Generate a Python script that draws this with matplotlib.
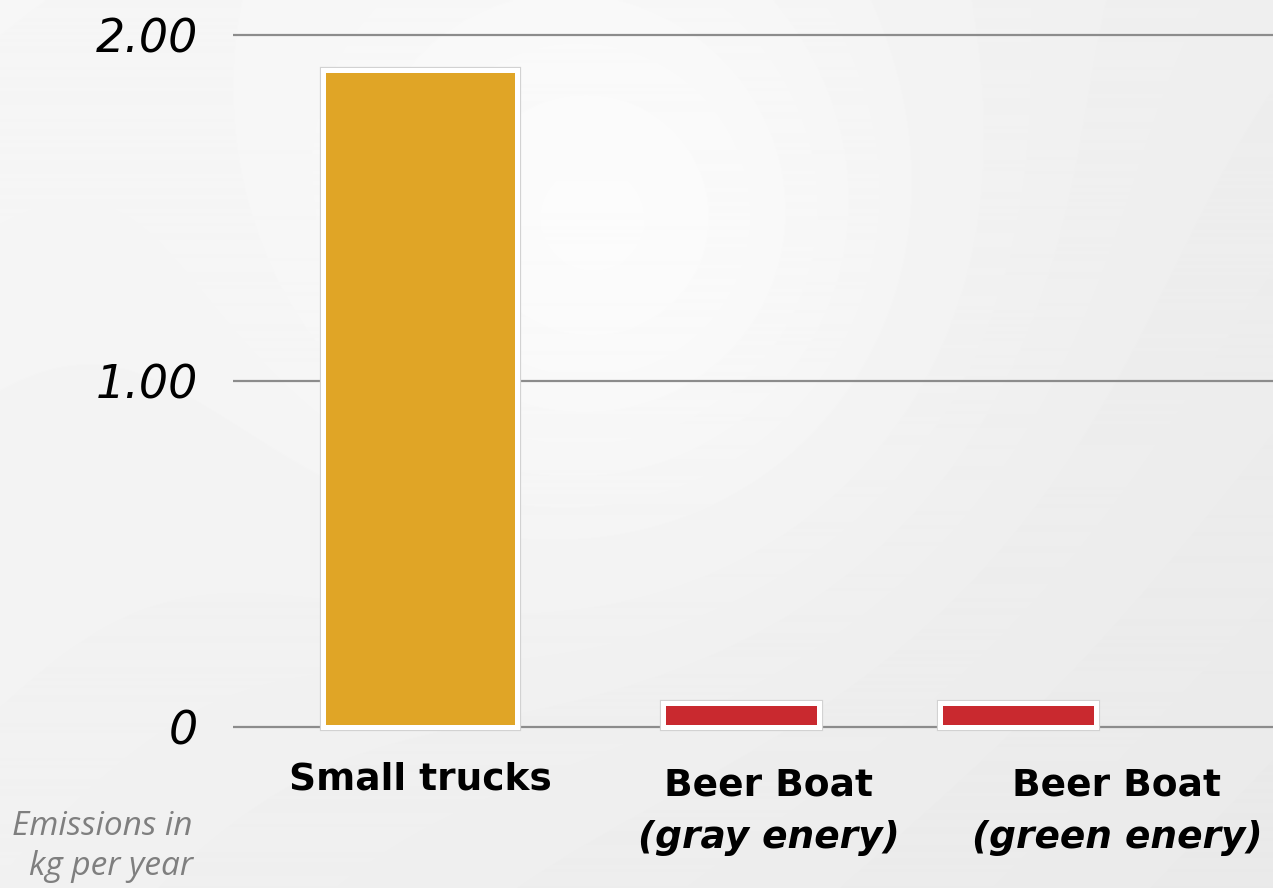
import numpy as np
import matplotlib
matplotlib.use("Agg")
import matplotlib.pyplot as plt
import matplotlib.transforms as mtransforms

# data
categories = ["Small trucks", "Beer Boat", "Beer Boat"]
subtitles = ["", "(gray enery)", "(green enery)"]
emissions = [1.90, 0.07, 0.07]
y_ticks = [0, 1, 2]
y_tick_labels = ["0", "1.00", "2.00"]

# layout (bars are not exactly centred under their labels on the slide)
bar_offsets = [0.0, -0.079, -0.284]
bar_widths = [0.554, 0.445, 0.445]
bar_colors = ["#E0A526", "#C9292F", "#C9292F"]

W, H = 1273, 888
fig = plt.figure(figsize=(W / 100, H / 100), dpi=100)

# =========================
# background: light gray with a soft highlight
# =========================
bg = fig.add_axes([0, 0, 1, 1], zorder=-10)
yy, xx = np.mgrid[0:H, 0:W]
base = 0.965 - 0.05 * (0.6 * xx / W + 0.4 * yy / H)
spot = 0.04 * np.exp(-((xx - 625) ** 2 + (yy - 250) ** 2) / (2 * 230.0 ** 2))
shade = np.clip(base + spot, 0, 1)
bg.imshow(shade, cmap="gray", vmin=0, vmax=1, aspect="auto",
          extent=[0, 1, 0, 1], origin="upper")
bg.set_axis_off()

# =========================
# main axes
# =========================
unit = 348.5  # pixels per category step
x_left = (233 - 420) / unit
x_right = (W - 420) / unit
ax = fig.add_axes([233 / W, (H - 761.6) / H, 1 - 233 / W, (761.6 - 0.4) / H])
ax.set_facecolor("none")
ax.set_xlim(x_left, x_right)
ax.set_ylim(-0.1, 2.1)

x = np.arange(len(categories))
xb = x + np.array(bar_offsets)

# light gray outline, then white frame on top
ax.bar(xb, emissions, width=bar_widths, color=bar_colors,
       edgecolor="#d2d2d2", linewidth=5.2, zorder=3, clip_on=False)
ax.bar(xb, emissions, width=bar_widths, color=bar_colors,
       edgecolor="white", linewidth=3.6, zorder=4, clip_on=False)

ax.set_yticks(y_ticks)
ax.set_yticklabels(y_tick_labels, fontsize=33, fontstyle="italic",
                   family="DejaVu Sans", color="black")
ax.tick_params(axis="y", length=0, pad=25)
ax.set_xticks([])
ax.yaxis.grid(True, color="#8c8c8c", linewidth=1.6)
ax.set_axisbelow(True)
for sp in ax.spines.values():
    sp.set_visible(False)

# category labels
trans = mtransforms.blended_transform_factory(ax.transData, fig.transFigure)
for i, (cat, sub) in enumerate(zip(categories, subtitles)):
    if sub:
        ax.text(i, 1 - 785 / H, cat, transform=trans, ha="center", va="center",
                fontsize=27, fontweight="bold", family="DejaVu Sans")
        ax.text(i, 1 - 838 / H, sub, transform=trans, ha="center", va="center",
                fontsize=27, fontweight="bold", fontstyle="italic",
                family="DejaVu Sans")
    else:
        ax.text(i, 1 - 779 / H, cat, transform=trans, ha="center", va="center",
                fontsize=27, fontweight="bold", family="DejaVu Sans")

# unit note
fig.text(193 / W, 1 - 826 / H, "Emissions in", ha="right", va="center",
         fontsize=24, fontstyle="italic", family="Open Sans", color="#7f7f7f")
fig.text(193 / W, 1 - 866 / H, "kg per year", ha="right", va="center",
         fontsize=24, fontstyle="italic", family="Open Sans", color="#7f7f7f")

fig.savefig("out.png", dpi=100)
